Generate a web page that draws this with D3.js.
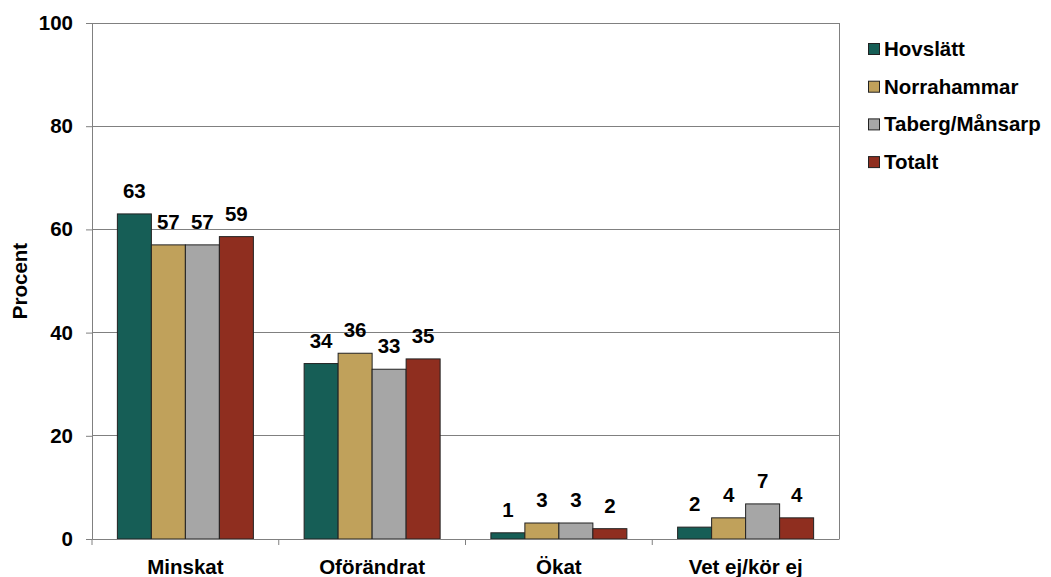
<!DOCTYPE html>
<html><head><meta charset="utf-8">
<script src="https://cdn.jsdelivr.net/npm/d3@7"></script>
<style>body{margin:0;background:#fff}svg{display:block;font-family:"Liberation Sans",Arial,sans-serif;font-weight:bold}</style>
</head><body><svg id="c" width="1051" height="577"></svg>
<script>
const categories = ["Minskat", "Oförändrat", "Ökat", "Vet ej/kör ej"];
const seriesNames = ["Hovslätt", "Norrahammar", "Taberg/Månsarp", "Totalt"];
const hovslatt = [63, 34, 1.2, 2.3];
const norrahammar = [57, 36, 3.1, 4.1];
const taberg = [57, 32.9, 3.1, 6.8];
const totalt = [58.6, 34.9, 2.0, 4.1];
const colors = ["#165E56", "#C0A15B", "#A6A6A6", "#8F2E1F"];
const yTicks = [0, 20, 40, 60, 80, 100];

const seriesValues = [hovslatt, norrahammar, taberg, totalt];
const svg = d3.select("#c");
const L = 92, R = 839, T = 23, B = 539;
const FS = 20.5;

const x0 = d3.scaleBand().domain(categories).range([L, R]).paddingInner(0).paddingOuter(0);
const inner = 136 / 186.75;
const x1 = d3.scaleBand().domain(seriesNames).range([0, x0.bandwidth() * inner]);
const y = d3.scaleLinear().domain([0, 100]).range([B, T]);

// gridlines
svg.append("g").selectAll("line").data(yTicks.filter(d => d > 0)).join("line")
  .attr("x1", L).attr("x2", R).attr("y1", d => y(d)).attr("y2", d => y(d))
  .attr("stroke", "#808080").attr("stroke-width", 1).attr("shape-rendering", "crispEdges");
// right border
svg.append("line").attr("x1", R).attr("x2", R).attr("y1", T).attr("y2", B)
  .attr("stroke", "#808080").attr("shape-rendering", "crispEdges");

// bars
const off = (x0.bandwidth() - x0.bandwidth() * inner) / 2;
const g = svg.append("g");
categories.forEach((c, ci) => {
  seriesNames.forEach((s, si) => {
    const v = seriesValues[si][ci];
    g.append("rect")
      .attr("x", x0(c) + off + x1(s)).attr("y", y(v))
      .attr("width", x1.bandwidth()).attr("height", y(0) - y(v))
      .attr("fill", colors[si]).attr("stroke", "#222").attr("stroke-width", 1);
    g.append("text")
      .attr("x", x0(c) + off + x1(s) + x1.bandwidth() / 2)
      .attr("y", y(v) - 16)
      .attr("text-anchor", "middle").attr("font-size", FS).attr("fill", "#000")
      .text(d3.format(".0f")(v));
  });
});

// y axis
const yAxis = d3.axisLeft(y).tickValues(yTicks).tickSize(6).tickPadding(13).tickFormat(d3.format("d"));
const ya = svg.append("g").attr("transform", `translate(${L},0)`).call(yAxis);
ya.select(".domain").attr("stroke", "#808080");
ya.selectAll(".tick line").attr("stroke", "#808080");
ya.selectAll("text").attr("font-size", FS).attr("font-family", "Liberation Sans, Arial").attr("font-weight", "bold").attr("fill", "#000");

// x axis
const xa = svg.append("g").attr("transform", `translate(0,${B})`).call(d3.axisBottom(x0).tickSize(0).tickPadding(20));
xa.select(".domain").attr("stroke", "#808080");
xa.selectAll("text").attr("font-size", FS).attr("font-family", "Liberation Sans, Arial").attr("font-weight", "bold").attr("fill", "#000");
svg.append("g").selectAll("line").data(categories.slice(1)).join("line")
  .attr("x1", d => x0(d)).attr("x2", d => x0(d)).attr("y1", B).attr("y2", B + 6)
  .attr("stroke", "#808080");
svg.append("line").attr("x1", L).attr("x2", L).attr("y1", B).attr("y2", B + 6).attr("stroke", "#808080");

// y title
svg.append("text").attr("transform", `translate(27,${(T + B) / 2}) rotate(-90)`)
  .attr("text-anchor", "middle").attr("font-size", FS).text("Procent");

// legend
const lg = svg.append("g");
seriesNames.forEach((s, i) => {
  const cy = 49 + i * 37.7;
  lg.append("rect").attr("x", 868.5).attr("y", cy - 5.5).attr("width", 11).attr("height", 11)
    .attr("fill", colors[i]).attr("stroke", "#222");
  lg.append("text").attr("x", 884).attr("y", cy + 7).attr("font-size", FS).text(s);
});
</script></body></html>
